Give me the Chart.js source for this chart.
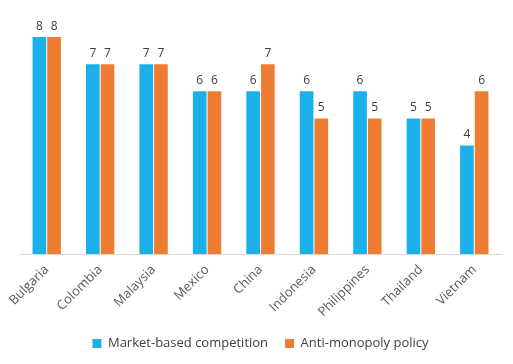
<!DOCTYPE html>
<html>
<head>
<meta charset="utf-8">
<script src="https://cdn.jsdelivr.net/npm/chart.js@4/dist/chart.umd.min.js"></script>
<style>
  html, body { margin: 0; padding: 0; background: #fff; }
  #wrap { width: 513px; height: 364px; }
</style>
</head>
<body>
<div id="wrap"><canvas id="myChart"></canvas></div>
<script>
const countries   = ['Bulgaria', 'Colombia', 'Malaysia', 'Mexico', 'China', 'Indonesia', 'Philippines', 'Thailand', 'Vietnam'];
const marketBased = [8, 7, 7, 6, 6, 6, 6, 5, 4];
const antiMonopoly = [8, 7, 7, 6, 7, 5, 5, 5, 6];

// writes the value above each bar
const valueLabels = {
    id: 'valueLabels',
    afterDatasetsDraw(chart) {
        const ctx = chart.ctx;
        ctx.save();
        ctx.font = '12px "Open Sans"';
        ctx.fillStyle = '#404040';
        ctx.textAlign = 'center';
        ctx.textBaseline = 'bottom';
        chart.data.datasets.forEach((ds, i) => {
            chart.getDatasetMeta(i).data.forEach((bar, j) => {
                ctx.fillText(ds.data[j], bar.x, bar.y - 5);
            });
        });
        ctx.restore();
    }
};

// keep the legend box a fixed height so the plot gets more room
const legendHeight = {
    id: 'legendHeight',
    afterInit(chart) {
        const legend = chart.legend;
        const fit = legend.fit;
        legend.fit = function () {
            fit.call(this);
            this.height = 42;
        };
    }
};

const myChart = document.getElementById('myChart');
const barChart = new Chart(myChart, {
    type: 'bar',
    data: {
        labels: countries,
        datasets: [{
            label: 'Market-based competition',
            data: marketBased,
            backgroundColor: '#1cb0ea'
        }, {
            label: 'Anti-monopoly policy',
            data: antiMonopoly,
            backgroundColor: '#ee7d31'
        }]
    },
    options: {
        responsive: true,
        maintainAspectRatio: false,
        animation: false,
        layout: { padding: { left: 20, right: 12, top: 10, bottom: 2 } },
        datasets: {
            bar: { categoryPercentage: 0.55, barPercentage: 0.93 }
        },
        plugins: {
            legend: {
                position: 'bottom',
                labels: {
                    boxWidth: 9,
                    boxHeight: 9,
                    padding: 17,
                    color: '#404040',
                    font: { family: '"Open Sans"', size: 13 }
                }
            },
            tooltip: { enabled: false }
        },
        scales: {
            x: {
                grid: { display: false },
                border: { color: '#d9d9d9' },
                ticks: {
                    minRotation: 45,
                    maxRotation: 45,
                    padding: 0,
                    color: '#595959',
                    font: { family: '"Open Sans"', size: 13 }
                }
            },
            y: {
                display: false,
                min: 0,
                max: 9
            }
        }
    },
    plugins: [valueLabels, legendHeight]
});
</script>
</body>
</html>
